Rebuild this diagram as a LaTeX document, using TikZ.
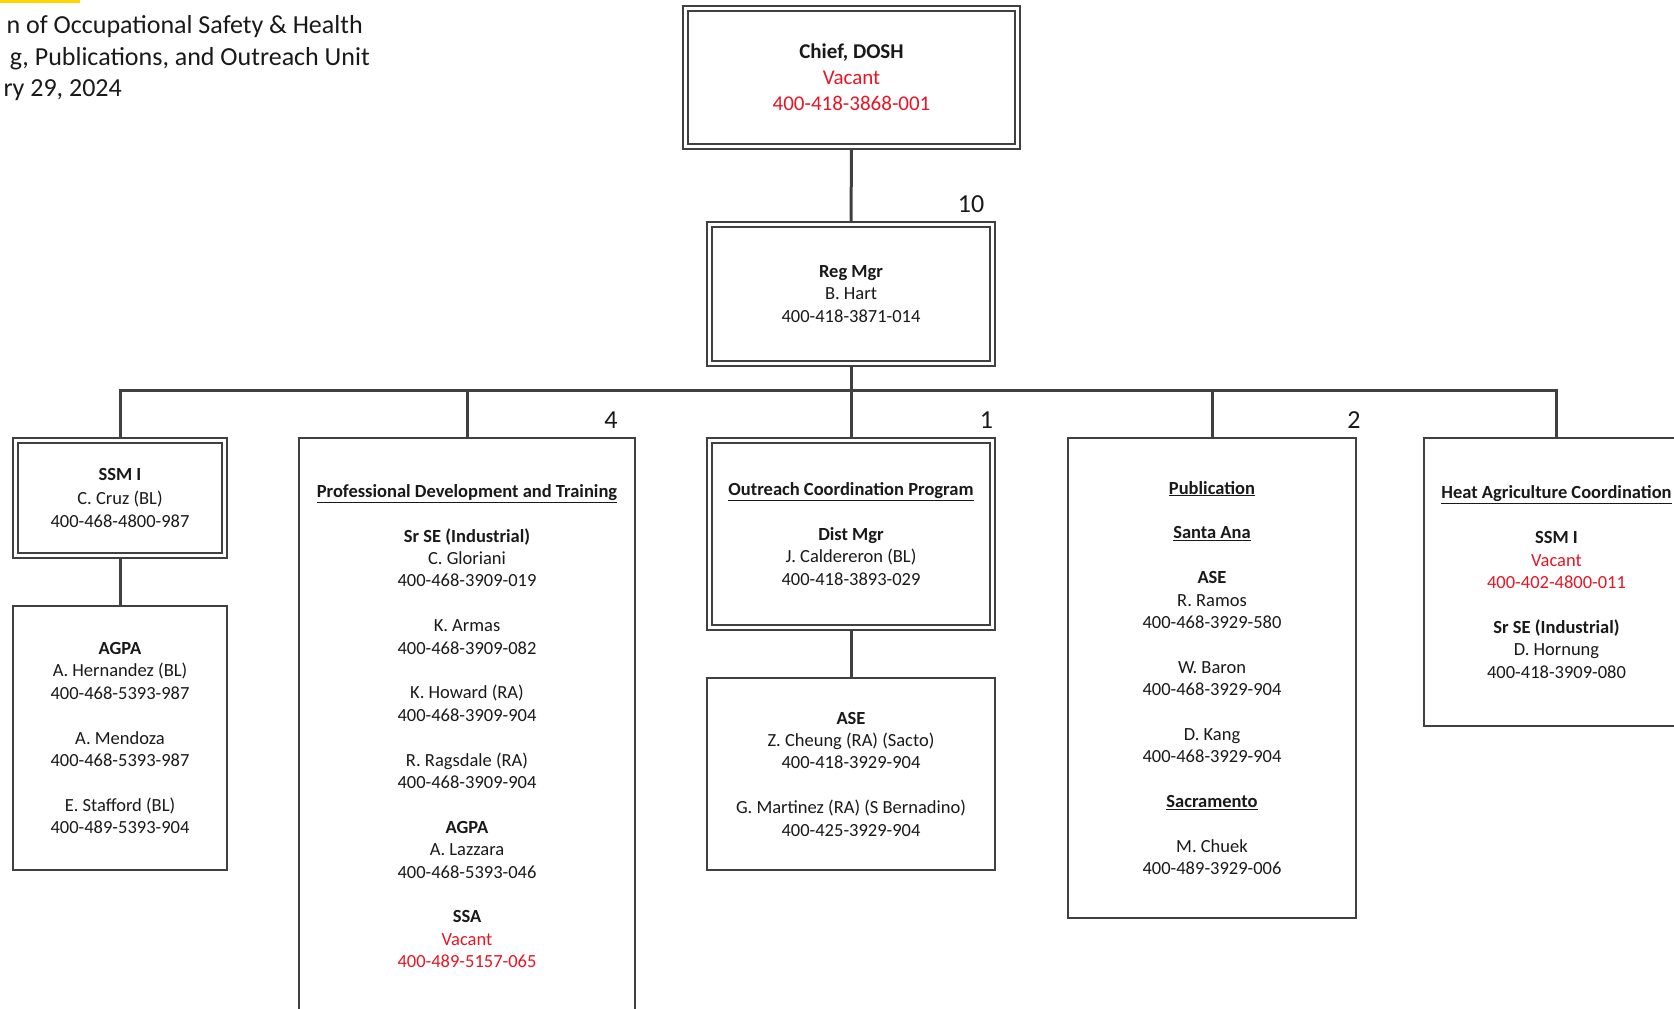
\documentclass[tikz,border=0pt]{standalone}
\usepackage{fontspec}
\setmainfont{Carlito}
\definecolor{linegray}{RGB}{64,64,64}
\definecolor{txt}{RGB}{25,25,25}
\definecolor{vacred}{RGB}{232,22,36}
\definecolor{hl}{RGB}{255,214,0}
\newcommand\bodyfont{\fontsize{18.5}{22.4}\selectfont}
\newcommand\hd[1]{\underline{\textbf{#1}}}
\newcommand\vtxt[1]{\textcolor{vacred}{#1}}
\pgfdeclarelayer{bg}
\pgfsetlayers{bg,main}
\begin{document}
\begin{tikzpicture}[x=1pt,y=-1pt,
  box/.style={draw=linegray, line width=1.3pt, inner sep=0pt, align=center, text=txt, font=\bodyfont, fill=white},
  dbox/.style={box, line width=1.2pt, double=white, double distance=3.8pt},
  conn/.style={draw=linegray, line width=3pt, line join=miter},
  num/.style={font=\fontsize{26}{30}\selectfont, text=txt, inner sep=0pt},
  titletext/.style={font=\fontsize{26}{31}\selectfont, text=txt, inner sep=0pt, anchor=base east}]
\useasboundingbox (0,0) rectangle (1674,1009);

% title (cropped at left)
\fill[hl] (0,0) rectangle (80,2.5);
\node[titletext] (t1) at (363,34) {n of Occupational Safety \& Health};
\node[titletext] (t2) at (370,65) {g, Publications, and Outreach Unit};
\node[titletext] (t3) at (122,96) {ry 29, 2024};

% boxes
\node[dbox, minimum width=332pt, minimum height=138pt, font=\fontsize{21}{26}\selectfont] (chief) at (851.5,77.5)
  {\textbf{Chief, DOSH}\\ \vtxt{Vacant}\\ \vtxt{400-418-3868-001}};
\node[dbox, minimum width=283pt, minimum height=139pt] (reg) at (851,294)
  {\textbf{Reg Mgr}\\ B. Hart\\ 400-418-3871-014};
\node[dbox, minimum width=209pt, minimum height=115pt, font=\fontsize{18.5}{23.5}\selectfont] (ssm) at (120,498)
  {\textbf{SSM I}\\ C. Cruz (BL)\\ 400-468-4800-987};
\node[box, minimum width=214pt, minimum height=264pt] (agpa) at (120,738)
  {\textbf{AGPA}\\ A. Hernandez (BL)\\ 400-468-5393-987\\[22.4pt]
   A. Mendoza\\ 400-468-5393-987\\[22.4pt]
   E. Stafford (BL)\\ 400-489-5393-904};
\node[box, minimum width=336pt, minimum height=576pt] (pdt) at (467,726)
  {\hd{Professional Development and Training}\\[22.4pt]
   \textbf{Sr SE (Industrial)}\\ C. Gloriani\\ 400-468-3909-019\\[22.4pt]
   K. Armas\\ 400-468-3909-082\\[22.4pt]
   K. Howard (RA)\\ 400-468-3909-904\\[22.4pt]
   R. Ragsdale (RA)\\ 400-468-3909-904\\[22.4pt]
   \textbf{AGPA}\\ A. Lazzara\\ 400-468-5393-046\\[22.4pt]
   \textbf{SSA}\\ \vtxt{Vacant}\\ \vtxt{400-489-5157-065}};
\node[dbox, minimum width=283pt, minimum height=187pt] (out) at (851,534)
  {\hd{Outreach Coordination Program}\\[22.4pt]
   \textbf{Dist Mgr}\\ J. Caldereron (BL)\\ 400-418-3893-029};
\node[box, minimum width=288pt, minimum height=192pt] (ase) at (851,774)
  {\textbf{ASE}\\ Z. Cheung (RA) (Sacto)\\ 400-418-3929-904\\[22.4pt]
   G. Martinez (RA) (S Bernadino)\\ 400-425-3929-904};
\node[box, minimum width=288pt, minimum height=480pt] (pub) at (1212,678)
  {\hd{Publication}\\[22.4pt]
   \hd{Santa Ana}\\[22.4pt]
   \textbf{ASE}\\ R. Ramos\\ 400-468-3929-580\\[22.4pt]
   W. Baron\\ 400-468-3929-904\\[22.4pt]
   D. Kang\\ 400-468-3929-904\\[22.4pt]
   \hd{Sacramento}\\[22.4pt]
   M. Chuek\\ 400-489-3929-006};
\node[box, minimum width=265pt, minimum height=288pt] (heat) at (1556.5,582)
  {\hd{Heat Agriculture Coordination}\\[22.4pt]
   \textbf{SSM I}\\ \vtxt{Vacant}\\ \vtxt{400-402-4800-011}\\[22.4pt]
   \textbf{Sr SE (Industrial)}\\ D. Hornung\\ 400-418-3909-080};

% head-count labels
\node[num] (n10) at (971,204) {10};
\node[num] (n4) at (611,420) {4};
\node[num] (n1) at (986.5,420) {1};
\node[num] (n2a) at (1354,420) {2};
\node[num] (n2b) at (1680,420) {2};

% connectors
\coordinate (bus) at (851,390);
\begin{pgfonlayer}{bg}
\draw[conn] (chief.south) -- (reg.north);
\draw[conn] (reg.south) -- (bus);
\draw[conn] (ssm.north) -- (ssm.north |- bus) -- (heat.north |- bus) -- (heat.north);
\draw[conn] (pdt.north |- bus) -- (pdt.north);
\draw[conn] (out.north |- bus) -- (out.north);
\draw[conn] (pub.north |- bus) -- (pub.north);
\draw[conn] (ssm.south) -- (agpa.north);
\draw[conn] (out.south) -- (ase.north);
\end{pgfonlayer}
\end{tikzpicture}
\end{document}
